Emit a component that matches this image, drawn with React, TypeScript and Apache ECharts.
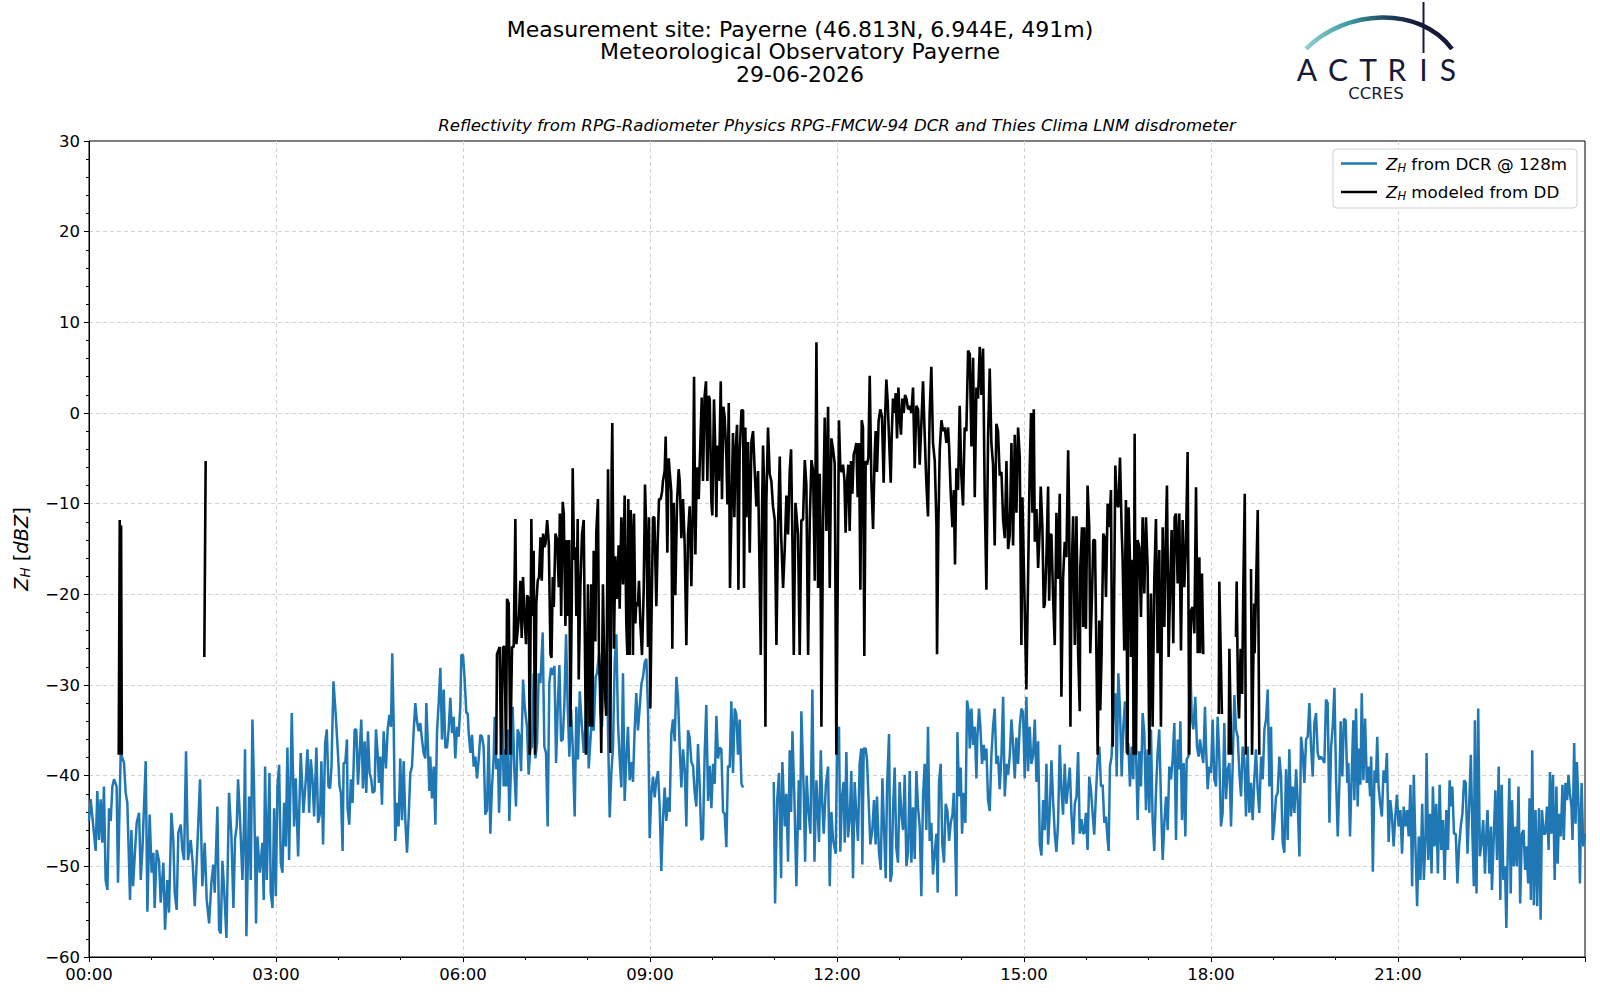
import React, { useEffect, useRef } from 'react';
import * as echarts from 'echarts';

// DCR reflectivity at 128 m: [minutes after 00:00, dBZ]
const dcrNight: [number, number][] = [
  [0, -45], [1.6, -42.6], [6.4, -48.3], [8, -41.7], [9.6, -47.1], [11.2, -42.6], [12.8, -47.4], [14.4, -41.2], [16, -51.5],
  [17.7, -52.6], [19.3, -43.6], [20.9, -45], [22.5, -41.2], [24.1, -40.4], [26.6, -41.2], [27.9, -51.8], [30.5, -37.5],
  [33.7, -38.6], [35.3, -41.9], [36.9, -43], [39.5, -53.7], [40.8, -46], [42.4, -52.2], [44, -48.9], [45.9, -45.2],
  [48.2, -44.1], [49.8, -51.5], [51.4, -48.2], [54.6, -38.4], [56.2, -55], [58.4, -44.3], [60.3, -50.7], [62, -48.5],
  [63.2, -54.6], [65.2, -48.2], [67.4, -49.4], [69, -54], [71.6, -49.6], [73.2, -57], [75.4, -51.5], [77, -55.1],
  [79.3, -44.1], [81.2, -47.2], [82.5, -52.9], [84.4, -54.8], [86, -46.3], [88.3, -45.4], [89.9, -48.2], [91.5, -49.3],
  [93.4, -37.3], [95.3, -49.3], [97.9, -47.1], [99.8, -49.6], [101.8, -54.4], [104.3, -47.8], [106.9, -40.4], [109.1, -52.2],
  [111.4, -47.4], [113.3, -53.7], [115.6, -56.3], [117.8, -51.8], [119.7, -49.8], [121, -52.9], [123.6, -43.4], [125.2, -57],
  [126.8, -57.4], [128.4, -49.4], [130, -52.4], [132.3, -57.9], [134.8, -41.9], [137.1, -46.7], [139, -54.6], [140.6, -46.9],
  [142.2, -45.6], [143.5, -40.4], [145.4, -44.9], [147.7, -51.5], [149.3, -44.9], [150.2, -37.1], [151.5, -57.7], [154.1, -42.3],
  [155.7, -51.5], [157.3, -33.8], [158.9, -41.5], [160.8, -56.3], [162.1, -46.7], [164.4, -50.7], [166.9, -47.4], [168.2, -53.7],
  [169.5, -39], [171.1, -51.5], [173.7, -39.7], [174.9, -52.9], [176.6, -54.6], [178.2, -43.6], [179.8, -53.3], [181.4, -41.2],
  [183, -38.8], [184.6, -49.6], [186.2, -50.7], [187.8, -43], [189.4, -47.8], [191, -36.9], [192.6, -49.3], [195.2, -33.1],
  [197.4, -45.6], [199, -40.3], [201.3, -48.9], [203.8, -37.5], [206.4, -44.1], [208.7, -40.4], [210.3, -37.1], [211.9, -44.1],
  [213.5, -38.2], [215.1, -40.4], [216.7, -44.5], [218.9, -36.9], [220.5, -45.2], [222.5, -44.1], [223.7, -38.4], [225.3, -47.6],
  [227.3, -36.4], [228.9, -34.9], [230.5, -41.2], [232.1, -41.4], [233.4, -39], [235.3, -29.6], [237.5, -33.3], [239.8, -37.9],
  [241.2, -41.2], [242.5, -41.9], [244.1, -48.3], [245.1, -38.6], [246.7, -38.6], [248.3, -36], [248.9, -43.6], [250.5, -45.4],
  [252.1, -40.4], [253.7, -43], [255.7, -34.9], [257.3, -34.9], [258.9, -41], [260.5, -37.5], [262.1, -33.8], [263.7, -41.4],
  [265.3, -36.2], [266.9, -41.9], [268.5, -35.1], [270.1, -39.7], [271.7, -40.4], [273, -41.9], [274.9, -41.7], [276.2, -34.9],
  [277.8, -37.5], [279.1, -40.8], [280.4, -37.9], [282, -43.2], [283.6, -35.1], [285.8, -39.2], [287.5, -34.9], [289.1, -33.3],
  [290.7, -34.6], [291.9, -26.5], [293.2, -33.8], [294.8, -47.2], [296.4, -43], [298, -45.6], [299.6, -38.1], [301.3, -44.9],
  [302.9, -38.4], [304.5, -45], [306.1, -48.5], [307.7, -44.5], [309.3, -39.7], [310.9, -39], [312.5, -35.1], [314.1, -32],
  [315.7, -34], [317.3, -35.1], [318.9, -34.2], [320.5, -36], [322.1, -37.5], [323.7, -38.1], [324.7, -32], [326.3, -37.1],
  [327.6, -41.7], [328.5, -37.9], [330.1, -42.5], [331.8, -39], [333.4, -45.4], [335, -35.1], [336.6, -32], [338.2, -28.1],
  [339.8, -36], [341.4, -30.5], [343, -36.9], [344.6, -36.9], [346.2, -34.9], [347.8, -31.4], [349.4, -35.3], [351, -33.5],
  [352.6, -38.1], [354.2, -34.6], [355.8, -35.7], [357.4, -32.4], [358.4, -26.7],
];
const dcrMorning: [number, number][] = [
  [360, -26.7], [361.6, -29.4], [363.2, -33.1], [364.5, -33.1], [365.5, -35.3], [367.1, -37.5], [368.7, -35.5], [370.3, -39],
  [371.9, -37.9], [373.5, -40.3], [375.1, -38.2], [376.7, -35.5], [378.3, -35.7], [379.9, -36.9], [381.5, -44.3], [383.1, -43.8],
  [384.7, -35.5], [386.3, -46.4], [387.9, -41.2], [389.5, -38.2], [390.5, -33.5], [392.1, -39.3], [393.7, -38.1], [394.7, -44.1],
  [396, -39.7], [397.6, -31.7], [399.2, -41.2], [400.8, -37.1], [401.7, -41.2], [403.3, -34.9], [404.6, -45], [406.2, -39],
  [407.8, -32.4], [409.4, -39.3], [411, -43.4], [412.6, -34.9], [414.2, -35.5], [415.9, -39.5], [417.8, -29.4], [419.4, -32.4],
  [421.6, -34.6], [423.2, -39.9], [424.8, -37.1], [426.4, -36.8], [428.1, -28.7], [429.7, -38.1], [431.3, -36.4], [432.9, -28.7],
  [434.5, -29.8], [436.7, -24.2], [438.3, -36.8], [439.9, -37.5], [441.5, -45.6], [443.1, -29.8], [444.7, -28.1], [446.3, -28.9],
  [448, -27.9], [449.6, -38.6], [451.2, -32.4], [452.8, -27.8], [454.4, -36.2], [456, -36], [457.6, -32], [459.2, -24.4],
  [460.8, -32.4], [462.4, -37.9], [464, -32.7], [465.6, -36.8], [467.5, -44.5], [469.1, -32.4], [470.7, -38.2], [472.4, -30.7],
  [474, -33.8], [476.2, -37.5], [477.8, -34.6], [479.4, -30.1], [481, -39.2], [483.5, -34.6], [485.8, -35], [487.7, -29.1],
  [489, -28.7], [490.9, -26.5], [492.2, -33], [493.8, -34.6], [495.4, -29.1], [497, -31.1], [498.6, -27.1], [499.6, -35],
  [501.2, -44.6], [502.8, -39.7], [504.4, -36.9], [506, -27.5], [507.6, -24.4], [509.2, -34.2], [510.8, -38.1], [512.4, -41.3],
  [514, -28.7], [515.6, -42.8], [517.2, -38.1], [518.8, -34.6], [520.4, -40.5], [522, -38.5], [523.6, -40.7], [525.2, -35],
  [526.8, -30.9], [528.4, -35], [530, -32.6], [531.7, -29.9], [533.3, -29.1], [534.9, -27.5], [536.5, -27.1], [538.1, -32.8],
  [539.7, -46.9], [541.3, -42], [542.9, -40.1], [544.5, -42.4], [546.1, -40.5], [547.7, -39.5], [549.3, -43.4], [550.9, -50.5],
  [552.5, -44.8], [554.1, -41.3], [555.7, -45], [557.3, -42.4], [558.9, -44], [560.5, -35.4], [562.1, -33.8], [563.8, -36.2],
  [565.4, -29.1], [567, -31.5], [568.6, -36.9], [570.2, -41.3], [571.8, -37.1], [573.4, -39.3], [575, -45.6], [576.6, -35],
  [578.2, -35.8], [579.8, -38.5], [581.4, -38.9], [583, -41.8], [584.6, -43.4], [586.2, -36.5], [587.8, -40.9], [589.4, -47.1],
  [591, -46.9], [592.6, -37.7], [594.2, -32.2], [595.9, -42.8], [597.5, -38.9], [599.1, -43.6], [600.7, -38.7], [602.3, -40.9],
  [603.9, -33.4], [605.5, -38.1], [607.1, -36.9], [608.7, -37.1], [610.3, -44], [611.9, -44.2], [613.5, -47.9], [615.1, -38.9],
  [616.7, -39.1], [618.3, -31.8], [619.9, -39.7], [621.5, -32.6], [623.1, -33.2], [624.7, -37.7], [626.3, -33.8], [628, -40.9],
  [629.6, -41.3],
];
const dcrMidday: [number, number][] = [
  [659.1, -40.7], [660.4, -54.1], [662.3, -43], [664.2, -39.7], [666.2, -51.3], [667.4, -38.5], [669.7, -45.6], [671.2, -42],
  [672.9, -49.5], [674.5, -37.2], [675.8, -44], [677.1, -35.1], [679, -42.5], [680.9, -52.2], [683.2, -40.5], [684.5, -46],
  [685.7, -32.9], [688, -41.9], [689.3, -49.5], [690.8, -40], [692.2, -43.4], [694.4, -46.4], [696.3, -30.5], [698.3, -49.5],
  [700.2, -40.5], [702.7, -47.3], [704.4, -37.2], [705.8, -43], [707.2, -46.4], [709.3, -41], [711.4, -39], [713, -52.2],
  [714.6, -44], [716.2, -47.1], [718.8, -48.6], [720, -37], [721.9, -34.6], [723.2, -48.4], [724.8, -42.3], [726.4, -40.7],
  [727.4, -47.4], [729, -37.4], [730.6, -46.8], [732.2, -44.8], [733.8, -39.5], [735.4, -51.3], [737, -40.7], [738.6, -44.3],
  [740.2, -47.2], [741.8, -38.7], [743.4, -37], [744.4, -49.8], [745.7, -37], [747.6, -37], [748.9, -38.3], [750.8, -43.9],
  [752.1, -47.6], [754, -46], [755.6, -42.7], [757.2, -47.6], [758.5, -42.3], [760.4, -48.4], [762.1, -50.4], [763.7, -40.3],
  [765.3, -46], [766.9, -51.3], [768.2, -41.1], [770.1, -35.4], [771.4, -51.7], [772.6, -50.9], [773.9, -43.9], [775.5, -39.1],
  [777.1, -48], [778.7, -49.6], [780.3, -40.7], [782, -44.3], [783.6, -46], [785.2, -39.9], [786.8, -50], [788.4, -48.4],
  [790, -39.5], [791.6, -49.6], [793.2, -43.5], [794.8, -49.2], [796.4, -39.5], [798, -43.5], [799.6, -45.6], [801.2, -53.3],
  [802.8, -42.3], [804.4, -38.7], [806, -46], [807.6, -34.6], [809.2, -47.2], [810.8, -45.2], [812.4, -50.9], [814.1, -48.4],
  [815.7, -46.4], [816.9, -52.9], [818.2, -40.7], [819.8, -38.7], [821.4, -47.6], [823, -49.6], [824.6, -43.1], [826.3, -43.9],
  [827.9, -47.2], [829.5, -45.2], [831.1, -44.3], [832.4, -41.9], [833.6, -46.4], [834.9, -53.3], [835.9, -35.2], [837.5, -42.3],
  [839.1, -39.1], [840.4, -46.4], [842, -41.9], [843.6, -45.2], [845.2, -31.7], [846.8, -33], [847.8, -37], [849.4, -32.6],
  [851, -36.6], [852.6, -34.6], [854.2, -40.3], [855.1, -35.8], [856.7, -32.6], [858, -34.6], [859.6, -38.7], [861.2, -36.6],
  [862.2, -38.3], [863.8, -37], [865.4, -42.7], [867, -43.9], [868.6, -37.8], [870.2, -34.6], [871.8, -32.6], [873.4, -38.7],
  [875, -37.8], [876.6, -41.5], [878.3, -37.8], [879.9, -31.3], [881.5, -42.3], [883.1, -38.7], [884.7, -39.9], [886.3, -37.8],
  [887.9, -33.8], [889.5, -36.6], [891.1, -40.3], [892.7, -35.8], [894.3, -38.7], [895.9, -34.6], [897.5, -32.6], [899.1, -33],
  [900.7, -40.3], [902.3, -31.3], [903.9, -39.5], [905.5, -34.6], [907.1, -38.7], [908.7, -37.8], [910.4, -33.8], [912, -40.7],
  [913.6, -36.2], [915.2, -47.6], [916.8, -48.8], [918.4, -42.7], [920, -46], [921.6, -38.7], [923.2, -47.6], [924.8, -43.9],
  [926.4, -38.3], [928, -42.7], [929.6, -46.4], [931.2, -48.4], [932.8, -45.2], [934.4, -36.6], [936, -41.5], [937.6, -44.3],
  [939.2, -38.7], [940.8, -43.1], [942.5, -41.1], [944.1, -39.1], [945.7, -44.3], [947.3, -47.6], [948.9, -43.1], [950.5, -42.3],
  [952.1, -37.4], [953.7, -46.4], [955.3, -44.8], [956.9, -46.4],
];
const dcrEvening: [number, number][] = [
  [958, -46.3], [959.6, -44.1], [961.2, -48.2], [962.8, -40.1], [964.4, -41.5], [966, -44.1], [967.6, -46.5], [969.3, -41.9],
  [970.9, -38.2], [972.5, -36.8], [974.1, -41.2], [975.7, -41], [977.3, -45.2], [978.9, -44.5], [980.5, -47.1], [981.5, -48.3],
  [982.7, -39], [984.3, -37.9], [985.9, -33.1], [987.9, -30.9], [989.2, -40.1], [990.8, -28.7], [992.4, -32.7], [994, -40.1],
  [995.6, -34.6], [997.2, -31.8], [998.8, -37.5], [1000.4, -36.4], [1002, -41.2], [1003.6, -36.8], [1005.2, -40.4], [1006.2, -32],
  [1007.8, -37.1], [1009.4, -44.9], [1011, -37.3], [1012.6, -41.2], [1014.2, -33.1], [1015.8, -35.3], [1017.4, -43.8], [1019, -37.1],
  [1020.6, -44.1], [1022.2, -34.9], [1023.8, -44.9], [1025.4, -48.3], [1027, -41.9], [1028.6, -37.5], [1030.2, -34.9], [1031.8, -42.6],
  [1033.5, -49.3], [1035.1, -45.2], [1036.7, -42.3], [1038.3, -46], [1039.9, -39], [1041.5, -40.4], [1043.1, -38.2], [1044.7, -34.2],
  [1046.3, -47.1], [1047.9, -36], [1049.5, -39.3], [1050.5, -34], [1052.1, -44.9], [1053.7, -38.6], [1055.3, -46.7], [1056.6, -38.2],
  [1058.2, -37.9], [1059.8, -26.1], [1061.4, -33.5], [1063, -34.9], [1064.9, -31.3], [1066.5, -36.8], [1068.1, -37.9], [1069.4, -36],
  [1071, -37.5], [1072.6, -38.6], [1074.2, -32.4], [1075.2, -36.8], [1076.8, -41.5], [1078.4, -39], [1080, -39.7], [1081.6, -33.8],
  [1083.2, -40.4], [1084.8, -41.2], [1086.4, -33.5], [1088, -37.9], [1089.6, -45.6], [1091.2, -44.1], [1092.8, -34.2], [1094.4, -42.6],
  [1096.1, -39.3], [1097.7, -38.6], [1099.3, -45.6], [1100.9, -38.6], [1102.5, -31.1], [1104.1, -34.9], [1105.7, -35.7], [1107.3, -39.7],
  [1108.9, -42.3], [1110.5, -36.8], [1112.1, -38.2], [1113.7, -44.5], [1115.3, -36.8], [1116.9, -44.1], [1118.5, -40.8], [1120.1, -44.9],
  [1121.7, -40.4], [1123.3, -37.1], [1124.9, -41.5], [1126.5, -44.1], [1128.2, -37.9], [1129.8, -40.4], [1131.4, -34.9], [1133, -33.8],
  [1134.6, -30.5], [1136.2, -41.2], [1137.8, -34.6], [1139.4, -47.1], [1141, -45.2], [1142.6, -42.3], [1144.2, -41.9], [1145.8, -37.9],
  [1147.4, -40.1], [1149, -47.4], [1150.6, -48.5], [1152.2, -39.3], [1153.8, -47.1], [1155.4, -37.1], [1157, -44.5], [1158.6, -41.2],
  [1160.3, -44.1], [1161.9, -39.3], [1163.5, -43], [1165.1, -48.9], [1166.7, -35.7], [1168.3, -37.5], [1169.9, -40.8], [1171.5, -36],
  [1173.1, -35.7], [1174.7, -32], [1176.3, -36.8], [1177.9, -40.1], [1179.5, -34.2], [1181.1, -33.1], [1182.7, -37.5], [1184.3, -38.2],
  [1185.9, -37.9], [1187.5, -38.2], [1189.1, -38.6], [1190.7, -31.6], [1192.3, -32], [1194, -45.2], [1195.6, -36.8], [1197.2, -34.6],
  [1198.8, -30.3], [1200.4, -40.4], [1202, -46.7], [1203.6, -40.8],
];
const dcrNightLate: [number, number][] = [
  [1204.8, -34], [1206.4, -40.1], [1208, -33.7], [1209.6, -33.9], [1211.2, -40.8], [1212.2, -38.6], [1213.8, -46.7], [1215.4, -40.1],
  [1217, -33.9], [1218, -42.7], [1219.6, -32.6], [1221.2, -43.4], [1222.5, -37], [1223.8, -41], [1225.1, -30.9], [1226.7, -40.5],
  [1228.3, -33.7], [1230, -40.8], [1231.6, -39], [1233.2, -42.3], [1234.2, -37.9], [1235.8, -50.6], [1237.4, -39.4], [1238.7, -40.8],
  [1240, -35.7], [1241.3, -41.2], [1242.9, -43.1], [1244.5, -44.5], [1246.1, -39.4], [1247.7, -40.8], [1249.3, -37.5], [1251, -47.3],
  [1252.6, -42.7], [1254.2, -44.5], [1255.8, -47.8], [1257.4, -44.5], [1259, -42.1], [1260.6, -45.6], [1262.3, -43.8], [1263.9, -48.6],
  [1265.5, -43.4], [1267.1, -45.6], [1268.7, -43.8], [1270.3, -46.7], [1272, -41], [1273.6, -52.2], [1275.2, -39.9], [1276.8, -47.8],
  [1278.4, -54.4], [1280, -46.7], [1281.6, -51.5], [1283.3, -43.1], [1284.9, -51.5], [1286.5, -46.7], [1287.5, -37.5], [1289.1, -49.3],
  [1290.7, -44.2], [1292.3, -50.8], [1293.6, -41.2], [1295.2, -47.8], [1296.8, -43.1], [1298.4, -50.8], [1300.1, -41], [1301.7, -48.2],
  [1303.3, -44.9], [1304.9, -51.5], [1306.5, -43.8], [1308.1, -48.2], [1309.7, -40.5], [1311, -43.4], [1312.3, -41.2], [1313.9, -46.4],
  [1315.6, -46.4], [1317.2, -51.9], [1318.8, -47.8], [1320.4, -45.6], [1322, -44.2], [1323.6, -40.5], [1325.2, -40.8], [1326.9, -48.6],
  [1328.5, -43.4], [1330.1, -37.7], [1331.7, -46.7], [1333, -52.2], [1334, -33.9], [1335.6, -53], [1337.2, -32.6], [1338.8, -48.9],
  [1340.4, -47.5], [1342, -44.9], [1343.7, -50.8], [1345.3, -45.6], [1346.2, -43.8], [1347.9, -50.8], [1349.5, -45.6], [1350.4, -52.6],
  [1352.1, -47.1], [1353.7, -41.6], [1355.3, -49.3], [1356.9, -39], [1358.5, -53.7], [1359.8, -41], [1361.4, -51.5], [1363, -50],
  [1364.3, -56.8], [1365.6, -48.6], [1367.2, -40.3], [1368.5, -53], [1369.8, -42.7], [1371.4, -50], [1373, -45.6], [1374.3, -50],
  [1376, -41.2], [1377.6, -54.1], [1379.2, -46.4], [1380.8, -46], [1382.4, -50.4], [1383.7, -47.8], [1385.3, -51.9], [1386.6, -42.5],
  [1387.9, -53.7], [1389.2, -37.2], [1390.8, -54.3], [1392.4, -43.8], [1394, -54.4], [1395.7, -43.6], [1397.3, -55.9], [1398.6, -43.8],
  [1400.2, -46.4], [1401.8, -46.4], [1403.4, -43.4], [1405, -48.2], [1406.3, -39.6], [1407.6, -46.4], [1409.2, -39.9], [1410.8, -51.5],
  [1412.5, -41.2], [1413.7, -49.7], [1415, -44.2], [1416.7, -46.7], [1418.3, -41], [1419.6, -47.1], [1421.2, -40.8], [1422.8, -42.7],
  [1424.1, -39.9], [1425.4, -41.9], [1427, -43.4], [1428, -47.1], [1429.6, -36.4], [1430.9, -45.3], [1432.2, -38.5], [1433.8, -43.4],
  [1435.1, -51.9], [1436.7, -40.8], [1438.3, -47.8], [1440, -46.4],
];

// reflectivity modeled from the disdrometer drop size distribution: [minutes after 00:00, dBZ]
const ddNight1: [number, number][] = [[28.6, -37.7], [29.6, -11.8], [30.3, -37.7], [30.9, -12.4], [31.6, -37.7]];
const ddNight2: [number, number][] = [[111, -26.9], [112.3, -5.3]];
const ddDay: [number, number][] = [
  [392, -37.7], [392.7, -26.6], [395.3, -25.8], [396.6, -37.7], [398.5, -25.8], [400, -25.8], [401.4, -37.7], [402.4, -20.5],
  [404, -21], [405.6, -37.7], [407.2, -25.8], [408.8, -25.8], [410.4, -11.7], [411.4, -25.5], [413.9, -22.4], [415.2, -18.5],
  [416.5, -24.8], [417.8, -18.1], [419.1, -22.4], [420.7, -25.5], [421.7, -20.1], [423.3, -20.5], [424.2, -37.7], [425.8, -11.7],
  [426.8, -22.4], [428, -15.2], [429.3, -37.7], [430.6, -21], [431.9, -18.5], [433.2, -18.1], [434.6, -13.7], [435.8, -18.5],
  [437.1, -13.3], [438.4, -14.8], [439.4, -14.4], [441, -11.8], [442.6, -14.4], [444.2, -26.6], [445.2, -27], [446.4, -18.1],
  [447.4, -21.4], [449, -13.3], [450.6, -14], [452.2, -19.2], [453.2, -11.1], [454.5, -22.4], [456, -9.8], [457, -11.1],
  [458.6, -23.5], [459.6, -14], [460.9, -22.4], [462.2, -14], [463.4, -34.6], [464.7, -20.5], [465.6, -6.1], [466.9, -16.2],
  [468.2, -14.8], [469.1, -22.4], [470.4, -11.7], [471.4, -29.4], [473, -19.2], [474.6, -13.3], [476.2, -11.8], [477.5, -27.3],
  [478.4, -37.7], [480.3, -18.9], [481.9, -34.6], [483.5, -18.9], [484.5, -34.6], [485.8, -15.2], [487.4, -25.2], [488.3, -13.2],
  [489.9, -9.5], [490.9, -26.4], [492.2, -30.3], [493.1, -37.5], [494.7, -18.9], [496.3, -30.3], [497.9, -33.4], [499.6, -6.2],
  [500.5, -15.8], [501.8, -37.5], [503.1, -6.2], [503.7, -1.1], [505.3, -26], [506.6, -15.8], [508.2, -20.5], [509.8, -14.6],
  [510.8, -21.6], [512.4, -11.5], [514, -18.9], [515.6, -9.1], [517.2, -23.2], [518.2, -26.7], [519.1, -9.5], [520.4, -26.7],
  [521.4, -10.7], [522.7, -14.6], [523.6, -26.7], [524.6, -11.1], [525.9, -23.2], [526.8, -20.9], [528.4, -21.3], [529.4, -18.5],
  [530.7, -23.2], [532.3, -26.7], [533.9, -19.7], [535.2, -7.9], [536.5, -13.4], [538.1, -25.8], [539, -11.5], [540.3, -32.6],
  [541.6, -21.3], [542.9, -11.5], [544.2, -11.5], [546.1, -21.3], [547.4, -14.2], [548.7, -9.5], [550.3, -9.5], [551.6, -8.7],
  [552.5, -7.5], [554.1, -6.4], [555.1, -2.6], [556.7, -15.4], [558, -5], [558.9, -6.4], [560.5, -8.7], [561.5, -26],
  [562.8, -9.9], [564.4, -20.1], [566, -9.9], [567.6, -6.2], [568.6, -7.5], [570.2, -13.8], [571.8, -9.5], [573.4, -14.6],
  [575, -25.6], [576.6, -13.4], [578.2, -10.3], [579.8, -19.1], [581.4, -9.5], [582.4, 4], [583.7, -15.6], [584.6, -8.7],
  [585.6, -6], [586.9, -9.5], [588.5, -3.2], [589.8, 1.7], [591, -7.5], [592.6, 1.9], [593.9, 3.5], [595.2, -7.5],
  [596.5, 1.9], [597.5, 1.5], [599.1, -9.9], [600, -11.3], [601.6, 1.5], [602.6, -2.8], [603.9, -11.5], [604.8, -3.6],
  [606.4, -7.5], [608.1, 3.5], [609.3, -9.5], [610.6, 0.7], [611.9, -0.5], [613.5, -4.8], [614.5, -10.1], [615.8, 1.1],
  [617, -19.3], [618.3, -11.5], [619.9, -2.2], [621.2, -11.5], [622.5, -4], [623.8, -1.3], [625.1, -19.5], [626.3, -4.4],
  [628, 0.3], [629.6, 0.3], [630.5, -19.3], [631.8, -1.6], [632.8, -11.5], [634.4, -3.2], [636, -15.4], [637.6, -3.2],
  [639.2, -2], [640.8, -6.4], [642.4, -10.3], [644, -6.4], [645.6, -18.5], [646.6, -26.7], [647.9, -10.3], [648.8, -3.6],
  [649.8, -7.5], [651.1, -34.6], [652, -9.9], [653.6, -1.6], [655.2, -6.7], [656.8, -7.5], [658.4, -10.3], [660.1, -11.8],
  [661.7, -25.6], [663.3, -12.2], [664.9, -4.8], [666.2, -13.4], [668.1, -19.3], [669.7, -15], [671.3, -9.1], [672.9, -13.4],
  [674.5, -6.4], [675.8, -4], [677.1, -14.2], [678.4, -26.7], [680, -9.9], [680.9, -11.1], [682.5, -13.4], [684.1, -26.7],
  [685.7, -11.8], [687.3, -11.8], [689, -5.2], [690.5, -7.9], [692.2, -26.7], [693.8, -11.8], [695.4, -5.2], [697, -6.4],
  [698.6, -18.5], [700.2, 7.8], [701.8, -19.3], [703.4, -6.7], [704, -13], [705, -34.6], [706.6, -11.8], [708.2, -0.5],
  [709.8, -13], [711.4, 0.7], [713, -19.3], [714.6, -2.8], [716.2, -4], [717.8, -5.6], [719.4, -37.7], [721.9, -0.8],
  [723.2, -6.1], [724.5, -6.5], [725.8, -5.7], [727.1, -7.3], [728.3, -13.2], [729.6, -7.7], [730.9, -5.7], [732.2, -13],
  [733.5, -5.3], [734.8, -8.9], [736.1, -4.5], [737.3, -4.1], [738.6, -3.3], [739.9, -9.3], [741.2, -3.3], [742.5, -19.5],
  [743.8, -0.8], [745, -1.6], [746.3, -26.8], [747.6, -5.3], [748.9, -5.7], [750.2, -4.9], [751.5, 4.1], [753.1, -7.7],
  [754.7, -12.8], [756.3, -4.5], [757.2, -2], [758.5, -6.5], [760.1, -0.8], [761.7, 0.4], [763.3, -0.4], [764.9, -7.7],
  [766.2, -0.8], [767.5, 3.7], [768.8, 1.2], [770.1, -2.8], [771.7, -7.7], [772.6, -2.8], [773.9, 1.6], [775.2, 0],
  [776.5, 2.2], [777.8, -2.8], [779.1, 2.8], [780.3, -0.4], [781.6, -2.4], [782.9, 1.6], [784.2, 0], [785.5, 2],
  [786.8, 1.6], [788.4, 0.4], [790, 0.8], [791.6, 0], [793.2, 2.8], [794.8, -6.1], [796.4, 0.8], [798, 0.4],
  [799.6, -5.7], [801.2, -1.2], [802.8, 3.5], [804.4, -2.4], [806, -7.7], [807.6, -11.4], [809.2, 0], [810.8, 5.1],
  [812.4, -3.3], [814.1, -5.3], [815.7, -12.2], [816.3, -26.6], [817.6, -12.2], [818.9, -4.1], [820.5, -0.8], [822.1, -2],
  [823.7, -1.6], [825.3, -3.3], [826.9, -1.6], [827.9, -3.7], [829.5, -8.9], [831.1, -12.6], [832.4, -8.5], [833.6, -16.7],
  [834.9, -6.1], [836.5, -8.5], [838.1, 0.8], [839.7, -6.9], [841.3, -10.2], [842.9, -1.6], [844.5, -2], [846.2, 6.9],
  [847.8, 6.5], [849.4, -3.7], [851, 6.1], [852.6, -9.3], [854.2, 2.8], [855.8, 1.6], [857.4, 7.3], [859, 2],
  [860.6, 7.1], [862.2, -9.3], [863.8, -19.5], [865.4, -2.8], [867, 4.9], [868.6, -3.3], [870.2, -5.7], [871.8, -14.6],
  [873.4, -1.2], [875, -2], [876.6, -6.9], [878.3, -6.5], [879.9, -11.8], [881.5, -13.8], [883.1, -5.3], [884.7, -15],
  [886.3, -13.4], [887.9, -3.3], [889.5, -14.6], [891.1, -2.4], [892.7, -11], [894.3, -1.6], [895.9, -4.9], [897.5, -25.6],
  [898.5, -9.3], [899.8, -16.7], [901, -23.2], [902.3, -30.5], [903.9, -18.3], [905.5, -6.1], [906.8, 0], [908.1, -11],
  [909.4, 0.4], [910.4, -14.2], [912, -10.6], [913.6, -17.1], [915.2, -12.6], [916.1, -8.1], [917.7, -12.6], [919, -21.5],
  [920, -21.1], [921.6, -15.9], [923.2, -8.1], [924.2, -20.7], [925.4, -13.4], [926.4, -13.4], [928, -20.3], [929.6, -25.6],
  [931.2, -11], [932.8, -18.3], [934.4, -8.9], [936, -31.3], [937.6, -18.3], [939.2, -14.2], [940.8, -15.9], [942.5, -4.1],
  [943.4, -10.6], [944.7, -34.6], [945.7, -18.3], [947.3, -11.4], [948.9, -25.6], [950.5, -11.4], [952.1, -26.4], [953.7, -32.9],
  [954.2, -17], [955.8, -12.6], [957, -23.6], [958, -12.6], [959.6, -23.8], [961.2, -8], [962.8, -12.6], [963.8, -26.5],
  [965.4, -20.3], [966.7, -14], [968.3, -14], [969.3, -22.9], [970.9, -37.7], [972.5, -22.9], [973.4, -32.8], [974.7, -26.5],
  [976.3, -13.3], [977.6, -13.7], [978.9, -20.3], [980.5, -10], [982.1, -12.6], [983.7, -8.5], [985.3, -36.8], [986.3, -26.5],
  [987.9, -5.8], [989.2, -10], [990.8, -10.4], [992.4, -4.9], [994, -12.9], [994.9, -15.9], [996.5, -26.2], [998.1, -9.6],
  [999.7, -37.7], [1000.7, -10.4], [1002, -16.2], [1003, -26.9], [1004.6, -16.2], [1005.5, -37.7], [1006.5, -2.3], [1007.8, -37.7],
  [1009.4, -14], [1011, -14.8], [1012.6, -22.5], [1014.2, -11.5], [1015.8, -19.9], [1017.4, -11.5], [1019, -17], [1020.6, -37.7],
  [1022.2, -19.9], [1023.8, -34.6], [1025.4, -18.5], [1027, -11.7], [1028.6, -26.5], [1030.2, -15.1], [1031.8, -34.6], [1033.5, -12.6],
  [1035.1, -23.6], [1036.7, -12.6], [1037.6, -8], [1039.2, -26.9], [1040.5, -19.9], [1042.1, -12.9], [1043.7, -25.4], [1045, -11.5],
  [1046.3, -11.1], [1047.9, -18.8], [1049.5, -11.1], [1051.1, -26.2], [1052.7, -11.8], [1054.3, -19.2], [1055.9, -14.4], [1057.5, -4.3],
  [1059.1, -37.7], [1060.7, -21.8], [1062.3, -21.4], [1064, -24.3], [1065.6, -8.2], [1067.2, -26.5], [1068.8, -15.9], [1069.7, -26.5],
  [1071.3, -17.7], [1072.6, -26.6],
];
const ddEvening1: [number, number][] = [[1087.5, -33.2], [1088, -18.6], [1090.5, -33.2]];
const ddEvening2: [number, number][] = [[1097, -37.7], [1097.7, -26], [1099.5, -37.7]];
const ddEvening3: [number, number][] = [
  [1104, -24.7], [1104.7, -18.6], [1106, -31], [1107, -33.7], [1108.5, -26], [1110, -31], [1111, -20], [1112.5, -8.9], [1113.5, -37.7],
];
const ddEvening4: [number, number][] = [[1118.5, -17.2], [1119.5, -37.7], [1121.5, -21], [1122, -26.5], [1125, -10.7], [1126.5, -37.7]];

const xTickLabels = ['00:00', '03:00', '06:00', '09:00', '12:00', '15:00', '18:00', '21:00', '24:00'];
const titleLines = [
  'Measurement site: Payerne (46.813N, 6.944E, 491m)',
  'Meteorological Observatory Payerne',
  '29-06-2026',
];
const subTitle = 'Reflectivity from RPG-Radiometer Physics RPG-FMCW-94 DCR and Thies Clima LNM disdrometer';
const logoLetters = ['A', 'C', 'T', 'R', 'I', 'S'];
const logoLetterX = [1307, 1338, 1368, 1397, 1423.5, 1448];

const FONT = 'DejaVu Sans';
const NAVY = '#161a38';

// concatenates segments, with a null point between them so the line breaks
function joinSegments(segments: [number, number][][]): [number, number | null][] {
  const out: [number, number | null][] = [];
  segments.forEach((seg, i) => {
    if (i > 0) out.push([seg[0][0] - 0.3, null]);
    seg.forEach((p) => out.push(p));
  });
  return out;
}

const App: React.FC = () => {
  const chartRef = useRef<HTMLDivElement>(null);

  useEffect(() => {
    document.body.style.margin = '0';
    if (!chartRef.current) return;
    const chart = echarts.init(chartRef.current, undefined, { renderer: 'svg' });

    const dcrData = joinSegments([dcrNight.concat(dcrMorning), dcrMidday.concat(dcrEvening, dcrNightLate)]);
    const ddData = joinSegments([ddNight1, ddNight2, ddDay, ddEvening1, ddEvening2, ddEvening3, ddEvening4]);

    const legendRich = {
      i: { fontStyle: 'italic', fontSize: 16.7, fontFamily: FONT, color: '#000', padding: [0, 0, 0, 4], lineHeight: 20 },
      s: { fontStyle: 'italic', fontSize: 11.5, fontFamily: FONT, color: '#000', verticalAlign: 'bottom', lineHeight: 14 },
      t: { fontSize: 16.7, fontFamily: FONT, color: '#000', lineHeight: 20 },
    };

    const graphics: any[] = titleLines.map((txt, i) => ({
      type: 'text',
      x: 800,
      y: 29 + i * 22.8,
      style: { text: txt, fontSize: 22, fontFamily: FONT, fill: '#000', textAlign: 'center', textVerticalAlign: 'middle' },
    }));
    graphics.push({
      type: 'text',
      x: 837,
      y: 125.5,
      style: { text: subTitle, fontSize: 16.6, fontStyle: 'italic', fontFamily: FONT, fill: '#000', textAlign: 'center', textVerticalAlign: 'middle' },
    });
    // ACTRIS / CCRES logo
    graphics.push({
      type: 'bezierCurve',
      shape: { x1: 1306, y1: 49, cpx1: 1345, cpy1: 9, cpx2: 1420, cpy2: 5, x2: 1452, y2: 49 },
      style: {
        fill: 'none',
        lineWidth: 4.5,
        stroke: new echarts.graphic.LinearGradient(0, 0, 1, 0, [
          { offset: 0, color: '#8fd0cc' },
          { offset: 0.3, color: '#3d9aa0' },
          { offset: 0.55, color: '#1f4662' },
          { offset: 0.75, color: NAVY },
          { offset: 1, color: NAVY },
        ]),
      },
    });
    graphics.push({
      type: 'line',
      shape: { x1: 1423.5, y1: 2, x2: 1423.5, y2: 53 },
      style: { stroke: NAVY, lineWidth: 2 },
    });
    logoLetters.forEach((ch, i) => {
      graphics.push({
        type: 'text',
        x: logoLetterX[i],
        y: 68.5,
        style: { text: ch, fontSize: 30, fontFamily: 'Lato', fill: NAVY, textAlign: 'center', textVerticalAlign: 'middle' },
      });
    });
    graphics.push({
      type: 'text',
      x: 1376,
      y: 93.5,
      style: { text: 'CCRES', fontSize: 16.5, fontFamily: FONT, fill: NAVY, textAlign: 'center', textVerticalAlign: 'middle' },
    });

    const splitLineStyle = { color: '#d3d3d3', width: 1, type: [4, 3] };

    const option = {
      animation: false,
      backgroundColor: '#fff',
      textStyle: { fontFamily: FONT },
      graphic: graphics,
      grid: {
        left: 89,
        top: 141,
        width: 1496,
        height: 816,
        show: true,
        borderColor: '#000',
        borderWidth: 1,
        backgroundColor: 'transparent',
      },
      legend: {
        right: 23,
        top: 149,
        orient: 'vertical',
        align: 'left',
        icon: 'rect',
        itemWidth: 36,
        itemHeight: 2.5,
        itemGap: 10,
        padding: [6, 10, 6, 8],
        borderColor: '#d0d0d0',
        borderWidth: 1,
        borderRadius: 4,
        backgroundColor: 'rgba(255,255,255,0.85)',
        data: [{ name: 'dcr' }, { name: 'dd' }],
        formatter: (name: string) =>
          name === 'dcr' ? '{i|Z}{s|H}{t| from DCR @ 128m}' : '{i|Z}{s|H}{t| modeled from DD}',
        textStyle: { rich: legendRich },
      },
      xAxis: {
        type: 'value',
        min: 0,
        max: 1440,
        interval: 180,
        axisLine: { onZero: false, lineStyle: { color: '#000', width: 1 } },
        axisTick: { length: 5, lineStyle: { color: '#000' } },
        minorTick: { show: true, splitNumber: 3, length: 3, lineStyle: { color: '#000' } },
        axisLabel: {
          color: '#000',
          fontSize: 16.5,
          fontFamily: FONT,
          margin: 9,
          formatter: (v: number) => xTickLabels[Math.round(v / 180)],
          showMaxLabel: false,
        },
        splitLine: { show: true, showMinLine: false, showMaxLine: false, lineStyle: splitLineStyle },
      },
      yAxis: {
        type: 'value',
        min: -60,
        max: 30,
        interval: 10,
        name: '{i|Z}{s|H} [{i|dBZ}]',
        nameLocation: 'middle',
        nameRotate: 90,
        nameGap: 57,
        nameTextStyle: {
          rich: {
            i: { fontStyle: 'italic', fontSize: 19.4, fontFamily: FONT, color: '#000', lineHeight: 22 },
            s: { fontStyle: 'italic', fontSize: 13.5, fontFamily: FONT, color: '#000', verticalAlign: 'bottom', lineHeight: 16 },
          },
          fontSize: 19.4,
          fontFamily: FONT,
          color: '#000',
          lineHeight: 22,
        },
        axisLine: { show: true, onZero: false, lineStyle: { color: '#000', width: 1 } },
        axisTick: { show: true, length: 5, lineStyle: { color: '#000' } },
        minorTick: { show: true, splitNumber: 5, length: 3, lineStyle: { color: '#000' } },
        axisLabel: {
          color: '#000',
          fontSize: 16.5,
          fontFamily: FONT,
          margin: 9,
          formatter: (v: number) => String(v).replace('-', '\u2212'),
        },
        splitLine: { show: true, showMinLine: false, showMaxLine: false, lineStyle: splitLineStyle },
      },
      series: [
        {
          name: 'dcr',
          type: 'line',
          data: dcrData,
          symbol: 'none',
          connectNulls: false,
          lineStyle: { color: '#1f77b4', width: 2.5 },
          itemStyle: { color: '#1f77b4' },
          z: 2,
        },
        {
          name: 'dd',
          type: 'line',
          data: ddData,
          symbol: 'none',
          connectNulls: false,
          lineStyle: { color: '#000', width: 2.6 },
          itemStyle: { color: '#000' },
          z: 3,
        },
      ],
    };

    chart.setOption(option as any);

    return () => {
      chart.dispose();
    };
  }, []);

  return <div ref={chartRef} style={{ width: '1600px', height: '1000px' }} />;
};

export default App;
